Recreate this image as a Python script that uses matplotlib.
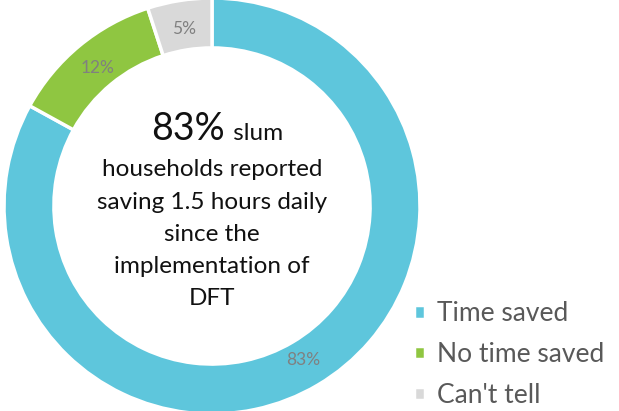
import matplotlib.pyplot as plt

# data
labels = ["Time saved", "No time saved", "Can't tell"]
shares = [83, 12, 5]
colors = ["#5ec6dc", "#8fc641", "#d9d9d9"]

plt.rcParams['font.family'] = ['Lato', 'DejaVu Sans']

fig = plt.figure(figsize=(6.19, 4.11), dpi=100)
# donut centre ~ (212, 206) px, outer radius ~ 207 px
ax = fig.add_axes([4 / 619, -3 / 411, 416 / 619, 416 / 411])
ax.set_aspect('equal')
ax.axis('off')

wedges, texts, autotexts = ax.pie(
    shares, colors=colors, startangle=90, counterclock=False,
    radius=1.0, autopct='%d%%', pctdistance=0.86,
    wedgeprops=dict(width=0.24, edgecolor='white', linewidth=2.5),
    textprops=dict(color='#808080', fontsize=12.5))
ax.set_xlim(-1, 1)
ax.set_ylim(-1, 1)

# centre text
ax.text(0.06, 0.315, "83%", fontsize=27, ha='right', va='baseline', color='#111111')
ax.text(0.07, 0.315, " slum", fontsize=17.5, ha='left', va='baseline', color='#111111')
ax.text(0.0, -0.135,
        "households reported\nsaving 1.5 hours daily\nsince the\nimplementation of\nDFT",
        fontsize=17.5, ha='center', va='center', color='#111111', linespacing=1.65)

# legend
fig.legend(wedges, labels, loc='lower left', bbox_to_anchor=(398 / 619, -0.031),
           frameon=False, fontsize=19, labelcolor='#595959',
           handlelength=0.42, handleheight=0.42, handletextpad=0.45,
           labelspacing=0.6, borderaxespad=0.2)

fig.savefig('out.png', dpi=100)
